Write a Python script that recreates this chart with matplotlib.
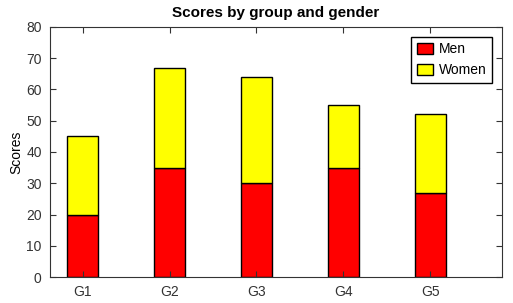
import numpy as np
import matplotlib
matplotlib.use('Agg')
import matplotlib.pyplot as plt

plt.rcParams['font.family'] = ['Liberation Sans', 'DejaVu Sans']

groups = ['G1', 'G2', 'G3', 'G4', 'G5']
menMeans = [20, 35, 30, 35, 27]
womenMeans = [25, 32, 34, 20, 25]

ind = np.arange(len(groups))
width = 0.35

fig = plt.figure(figsize=(5.13, 3.03), dpi=100)
ax = fig.add_axes([0.0975, 0.0858, 0.8811, 0.8251])

p1 = ax.bar(ind, menMeans, width, color='#ff0000', edgecolor='black', linewidth=1)
p2 = ax.bar(ind, womenMeans, width, bottom=menMeans, color='#ffff00',
            edgecolor='black', linewidth=1)

ax.set_ylabel('Scores', fontsize=10, labelpad=2)
ax.set_title('Scores by group and gender', fontsize=11, fontweight='bold', pad=7)
ax.set_xticks(ind)
ax.set_xticklabels(groups)
ax.set_yticks(np.arange(0, 81, 10))
ax.set_ylim(0, 80)
ax.set_xlim(-0.375, 4.825)

for s in ax.spines.values():
    s.set_color('#333333')
ax.tick_params(direction='in', length=4, top=True, right=True,
               labelsize=10, labelcolor='#333333', color='#333333', pad=6)

ax.legend((p1[0], p2[0]), ('Men', 'Women'), loc='upper right', fontsize=10,
          fancybox=False, edgecolor='black', framealpha=1,
          handlelength=1.15, handleheight=0.8, handletextpad=0.45,
          borderpad=0.4, borderaxespad=0.7)

fig.savefig('out.png', dpi=100)
